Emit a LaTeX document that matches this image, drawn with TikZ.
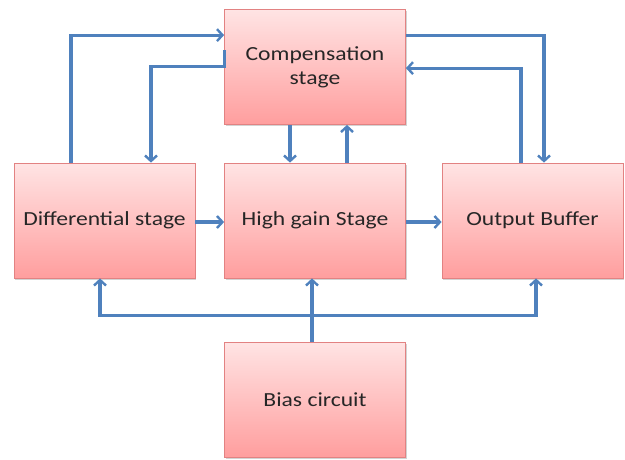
\documentclass[tikz,border=0pt]{standalone}
\usepackage{fontspec}
\setmainfont{Carlito}[FakeStretch=1.18]
\usetikzlibrary{arrows.meta,shadows}
\definecolor{linkblue}{RGB}{79,129,189}
\definecolor{boxtop}{RGB}{255,228,228}
\definecolor{boxbot}{RGB}{255,158,158}
\definecolor{boxedge}{RGB}{226,130,130}
\definecolor{txt}{RGB}{38,38,38}
\tikzset{
  block/.style={draw=boxedge, line width=0.8pt, top color=boxtop, bottom color=boxbot,
    minimum width=181pt, minimum height=115pt, inner sep=2pt, align=center,
    text=txt, font=\fontsize{20}{24}\selectfont,
    drop shadow={shadow xshift=1.2pt, shadow yshift=-1.5pt, opacity=0.35}},
  arr/.style={draw=linkblue, line width=3.2pt, -{Straight Barb[length=5.5pt,width=12pt,line width=2.4pt]}},
  link/.style={draw=linkblue, line width=3.2pt}
}
\begin{document}
\begin{tikzpicture}[x=1pt,y=-1pt]
\useasboundingbox (0,0) rectangle (625,459);
\node[block] (comp) at (315,67) {Compensation\\stage};
\node[block] (diff) at (104.5,220.5) {\raisebox{-3pt}{Differential stage}};
\node[block] (high) at (315,220.5) {\raisebox{-3pt}{High gain Stage}};
\node[block] (out) at (532.5,220.5) {\raisebox{-3pt}{Output Buffer}};
\node[block] (bias) at (315,399.5) {\raisebox{-3pt}{Bias circuit}};
% top-left connectors
\draw[arr] ([xshift=-33.5pt]diff.north) |- ([yshift=-26pt]comp.north west);
\draw[arr] ([yshift=-41pt]comp.north west) -- ([yshift=-57pt]comp.north west) -| ([xshift=46.5pt]diff.north);
% middle vertical connectors
\draw[arr] ([xshift=-25pt]comp.south) -- ([xshift=-25pt]high.north);
\draw[arr] ([xshift=32pt]high.north) -- ([xshift=32pt]comp.south);
% top-right connectors
\draw[arr] ([yshift=-26pt]comp.north east) -| ([xshift=11.5pt]out.north);
\draw[arr] ([xshift=-11.5pt]out.north) |- ([yshift=-59pt]comp.north east);
% main chain
\draw[arr] ([yshift=-1.5pt]diff.east) -- ([yshift=-1.5pt]high.west);
\draw[arr] ([yshift=-1.5pt]high.east) -- ([yshift=-1.5pt]out.west);
% bias distribution
\coordinate (bj) at ([xshift=-3pt,yshift=26pt]bias.north);
\draw[arr] ([xshift=-3pt]bias.north) -- ([xshift=-3pt]high.south);
\draw[arr] (bj) -| ([xshift=-4.5pt]diff.south);
\draw[arr] (bj) -| ([xshift=3.5pt]out.south);
\end{tikzpicture}
\end{document}
